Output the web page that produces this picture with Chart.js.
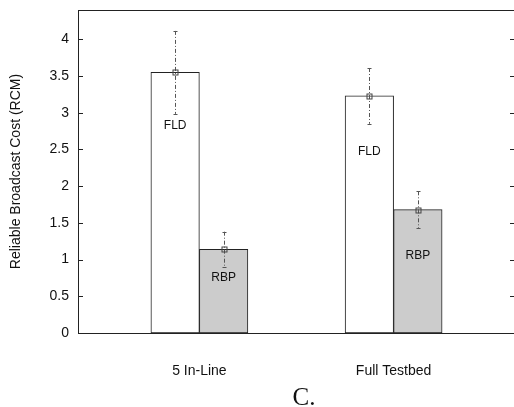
<!DOCTYPE html>
<html>
<head>
<meta charset="utf-8">
<script src="https://cdn.jsdelivr.net/npm/chart.js@4.4.1/dist/chart.umd.min.js"></script>
<style>
  html, body { margin: 0; padding: 0; background: #fff; overflow: hidden; }
  #wrap { width: 520px; height: 407px; position: relative; }
</style>
</head>
<body>
<div id="wrap"><canvas id="chart" width="520" height="407"></canvas></div>
<script>
// categories and series
const categories = ['5 In-Line', 'Full Testbed'];
const seriesNames = ['FLD', 'RBP'];
const fldMean = [3.55, 3.23];
const fldErr = [0.565, 0.38];
const rbpMean = [1.14, 1.68];
const rbpErr = [0.24, 0.25];
// where the in-bar labels sit, in axis units
const fldLabelAt = [2.83, 2.47];
const rbpLabelAt = [0.76, 1.05];
const yTicks = [0, 0.5, 1, 1.5, 2, 2.5, 3, 3.5, 4];

const FONT = 'Liberation Sans, Arial, Helvetica, sans-serif';
const INK = '#222';

const toPoints = (vals) => vals.map((v, i) => ({ x: i + 1, y: v }));

// error bars, markers, in-bar labels, inner ticks, frame and caption
const decorations = {
  id: 'decorations',
  afterDatasetsDraw(chart) {
    const ctx = chart.ctx;
    const y = chart.scales.y;
    const errs = [fldErr, rbpErr];
    const means = [fldMean, rbpMean];
    const labelAt = [fldLabelAt, rbpLabelAt];

    ctx.save();
    chart.data.datasets.forEach((ds, d) => {
      const meta = chart.getDatasetMeta(d);
      meta.data.forEach((bar, i) => {
        const x = Math.round(bar.x) + 0.5;
        const top = y.getPixelForValue(means[d][i] + errs[d][i]);
        const bot = y.getPixelForValue(means[d][i] - errs[d][i]);
        const mid = y.getPixelForValue(means[d][i]);

        // dash-dot whisker
        ctx.strokeStyle = '#555';
        ctx.lineWidth = 1;
        ctx.setLineDash([4, 2, 1, 2]);
        ctx.beginPath();
        ctx.moveTo(x, top);
        ctx.lineTo(x, bot);
        ctx.stroke();
        ctx.setLineDash([]);
        // caps
        ctx.beginPath();
        ctx.moveTo(x - 2, Math.round(top) + 0.5);
        ctx.lineTo(x + 2, Math.round(top) + 0.5);
        ctx.moveTo(x - 2, Math.round(bot) + 0.5);
        ctx.lineTo(x + 2, Math.round(bot) + 0.5);
        ctx.stroke();
        // open square marker
        ctx.strokeStyle = '#444';
        ctx.strokeRect(x - 2.5, Math.round(mid) - 2, 5, 5);

        // label inside bar
        ctx.fillStyle = '#111';
        ctx.font = '12px ' + FONT;
        ctx.textAlign = 'center';
        ctx.textBaseline = 'middle';
        ctx.fillText(seriesNames[d], bar.x, y.getPixelForValue(labelAt[d][i]));
      });
    });
    ctx.restore();
  },
  afterDraw(chart) {
    const ctx = chart.ctx;
    const y = chart.scales.y;
    const a = chart.chartArea;
    ctx.save();
    ctx.strokeStyle = INK;
    ctx.lineWidth = 1;
    // frame
    ctx.strokeRect(Math.round(a.left) + 0.5, Math.round(a.top) + 0.5,
      Math.round(a.right - a.left), Math.round(a.bottom - a.top));
    // inward ticks on left and mirrored on right
    ctx.beginPath();
    yTicks.forEach(v => {
      const py = Math.round(y.getPixelForValue(v)) + 0.5;
      ctx.moveTo(a.left, py);
      ctx.lineTo(a.left + 5, py);
      ctx.moveTo(a.right - 5, py);
      ctx.lineTo(a.right, py);
    });
    ctx.stroke();
    // caption
    ctx.fillStyle = '#111';
    ctx.font = '25px Liberation Serif, Times New Roman, serif';
    ctx.textAlign = 'center';
    ctx.textBaseline = 'alphabetic';
    ctx.fillText('C.', 304, 405);
    ctx.restore();
  }
};

new Chart(document.getElementById('chart'), {
  type: 'bar',
  data: {
    datasets: [
      {
        label: seriesNames[0],
        data: toPoints(fldMean),
        backgroundColor: '#ffffff',
        borderColor: INK,
        borderWidth: 1,
        borderSkipped: false,
        barThickness: 48.5
      },
      {
        label: seriesNames[1],
        data: toPoints(rbpMean),
        backgroundColor: '#cccccc',
        borderColor: INK,
        borderWidth: 1,
        borderSkipped: false,
        barThickness: 48.5
      }
    ]
  },
  options: {
    responsive: false,
    animation: false,
    devicePixelRatio: 1,
    layout: { padding: { top: 10, right: 5, left: 0, bottom: 0 } },
    plugins: {
      legend: { display: false },
      tooltip: { enabled: false }
    },
    scales: {
      x: {
        type: 'linear',
        min: 0.375,
        max: 2.625,
        offset: false,
        grid: { display: false, drawTicks: false, offset: false },
        border: { display: false },
        afterBuildTicks: (scale) => {
          scale.ticks = categories.map((c, i) => ({ value: i + 1 }));
        },
        afterFit: (scale) => {
          scale.height = 74;
          scale.paddingLeft = 0;
          scale.paddingRight = 0;
        },
        ticks: {
          autoSkip: false,
          maxRotation: 0,
          padding: 30,
          color: '#111',
          font: { family: FONT, size: 14 },
          callback: (v) => categories[v - 1]
        }
      },
      y: {
        min: 0,
        max: 4.4,
        grid: { display: false, drawTicks: false },
        border: { display: false },
        afterFit: (scale) => {
          scale.width = 78;
          scale.paddingTop = 0;
          scale.paddingBottom = 0;
        },
        ticks: {
          stepSize: 0.5,
          includeBounds: false,
          padding: 9,
          color: '#111',
          font: { family: FONT, size: 14 },
          callback: (v) => String(v)
        },
        title: {
          display: true,
          text: 'Reliable Broadcast Cost (RCM)',
          color: '#111',
          font: { family: FONT, size: 14 },
          padding: { top: 8, bottom: 0 }
        }
      }
    }
  },
  plugins: [decorations]
});
</script>
</body>
</html>
